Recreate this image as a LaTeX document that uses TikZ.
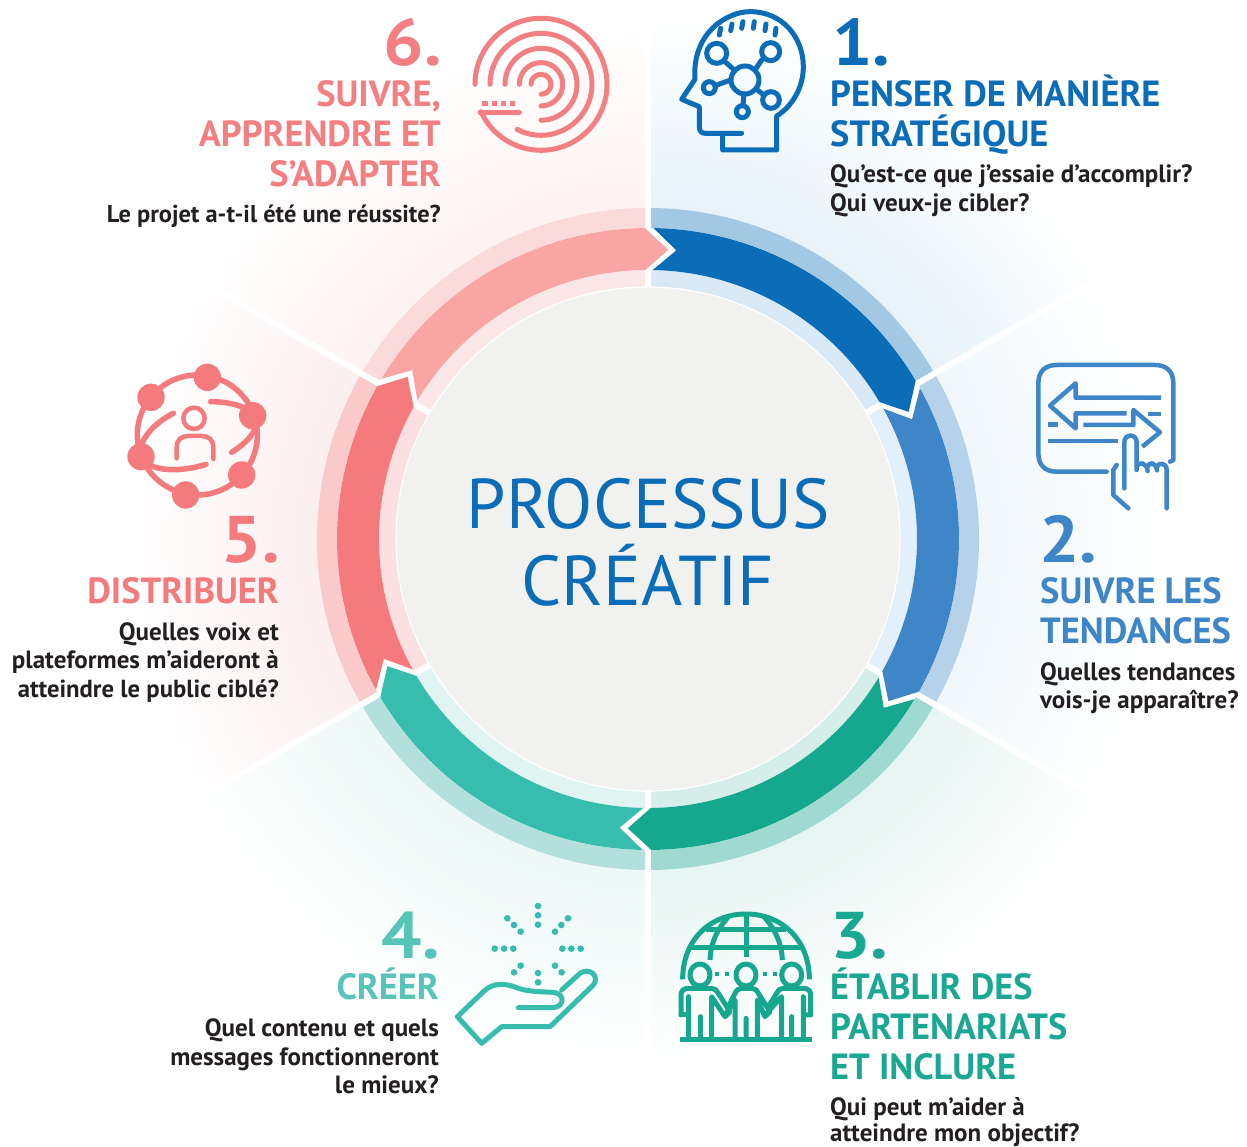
\documentclass[tikz,border=0pt]{standalone}
\usepackage{fontspec}
\setmainfont{PT Sans}
\definecolor{dA}{HTML}{0B6DB8}\definecolor{dB}{HTML}{3F86C8}\definecolor{dC}{HTML}{15A88F}
\definecolor{dD}{HTML}{36BDAE}\definecolor{dE}{HTML}{F47A7E}\definecolor{dF}{HTML}{F8A5A3}
\definecolor{oA}{HTML}{A2C8E3}\definecolor{oB}{HTML}{B5D2EA}\definecolor{oC}{HTML}{A0D9CF}
\definecolor{oD}{HTML}{B3E0DC}\definecolor{oE}{HTML}{FAC9CA}\definecolor{oF}{HTML}{FBDADA}
\definecolor{iA}{HTML}{D9E9F5}\definecolor{iB}{HTML}{E4F0F9}\definecolor{iC}{HTML}{D5EEE9}
\definecolor{iD}{HTML}{E0F4F1}\definecolor{iE}{HTML}{FCE0E1}\definecolor{iF}{HTML}{FCE7E7}
\definecolor{sA}{HTML}{E6F2F9}\definecolor{sB}{HTML}{F0F7FC}\definecolor{sC}{HTML}{E6F5F2}
\definecolor{sD}{HTML}{ECF8F6}\definecolor{sE}{HTML}{FCEEEE}\definecolor{sF}{HTML}{FEF2F1}
\definecolor{lblA}{HTML}{0B6DB8}\definecolor{lblB}{HTML}{3F86C8}\definecolor{lblC}{HTML}{1BA892}
\definecolor{lblD}{HTML}{56C4B6}\definecolor{lblE}{HTML}{F47A7E}\definecolor{lblF}{HTML}{F47F82}
\definecolor{txt}{HTML}{231F20}\definecolor{greyc}{HTML}{F1F1F0}
\pgfdeclareradialshading{fadeA}{\pgfpoint{0bp}{0bp}}{color(0bp)=(sA);color(15bp)=(sA);color(25bp)=(white);color(50bp)=(white)}
\pgfdeclareradialshading{fadeB}{\pgfpoint{0bp}{0bp}}{color(0bp)=(sB);color(15bp)=(sB);color(25bp)=(white);color(50bp)=(white)}
\pgfdeclareradialshading{fadeC}{\pgfpoint{0bp}{0bp}}{color(0bp)=(sC);color(15bp)=(sC);color(25bp)=(white);color(50bp)=(white)}
\pgfdeclareradialshading{fadeD}{\pgfpoint{0bp}{0bp}}{color(0bp)=(sD);color(15bp)=(sD);color(25bp)=(white);color(50bp)=(white)}
\pgfdeclareradialshading{fadeE}{\pgfpoint{0bp}{0bp}}{color(0bp)=(sE);color(15bp)=(sE);color(25bp)=(white);color(50bp)=(white)}
\pgfdeclareradialshading{fadeF}{\pgfpoint{0bp}{0bp}}{color(0bp)=(sF);color(15bp)=(sF);color(25bp)=(white);color(50bp)=(white)}
\newcommand{\sector}[3]{%
  \begin{scope}
    \clip (c) -- ($(c)+(#1:800pt)$) -- ($(c)+({(#1+#2)/2}:1000pt)$) -- ($(c)+(#2:800pt)$) -- cycle;
    \shade[shading=fade#3] (c) circle[radius=530pt];
  \end{scope}}
\newcommand{\bandpiece}[4]{% from to r colour
  \fill[#4] ($(c)+(#1:#3pt)$) arc[start angle=#1,end angle=#2,radius=#3pt] -- (c) -- cycle;}
\newcommand{\darkarrow}[3]{% a b colour: clockwise from a to b
  \fill[#3] ($(c)+({#1-1}:311pt)$) arc[start angle={#1-1},end angle={#2+0.6},radius=311pt]
    -- ($(c)+({#2-4}:290pt)$) -- ($(c)+({#2+0.6}:269pt)$)
    arc[start angle={#2+0.6},end angle={#1-1},radius=269pt]
    -- ($(c)+({#1-5.6}:290pt)$) -- cycle;}
\newcommand{\numwide}[1]{\scalebox{1.08}[1]{#1}}
\tikzset{
  x=1pt,y=1pt,
  imgframe/.style={shift={(0pt,1146pt)},x=1pt,y=-1pt},
  zoomframe/.style n args={2}{shift={(#1pt,1146pt-#2pt)},x=0.33333pt,y=-0.33333pt},
  numtxt/.style={font=\fontsize{66}{66}\selectfont\bfseries,inner sep=0pt},
  headtxt/.style={font=\fontsize{36.4}{36.4}\selectfont\bfseries,inner sep=0pt},
  bodytxt/.style={font=\fontsize{25}{25}\selectfont\bfseries,text=txt,inner sep=0pt},
  centertxt/.style={font=\fontsize{70.5}{70.5}\selectfont,text=dA,inner sep=0pt},
  icon/.style={line width=5pt,line cap=round,line join=round},
}
\usetikzlibrary{calc}
\begin{document}
\begin{tikzpicture}
\useasboundingbox (0,0) rectangle (1247,1146);
\coordinate (c) at (648pt,607pt);
% sectors
\sector{90}{30}{A}\sector{30}{-30}{B}\sector{-30}{-90}{C}\sector{-90}{-150}{D}\sector{-150}{-210}{E}\sector{150}{90}{F}
% light bands
\bandpiece{90}{30}{331}{oA}\bandpiece{30}{-30}{331}{oB}\bandpiece{-30}{-90}{331}{oC}
\bandpiece{-90}{-150}{331}{oD}\bandpiece{-150}{-210}{331}{oE}\bandpiece{150}{90}{331}{oF}
\fill[white] (c) circle[radius=311pt];
\bandpiece{90}{30}{269}{iA}\bandpiece{30}{-30}{269}{iB}\bandpiece{-30}{-90}{269}{iC}
\bandpiece{-90}{-150}{269}{iD}\bandpiece{-150}{-210}{269}{iE}\bandpiece{150}{90}{269}{iF}
% white separators
\foreach \a in {90,30,-30,-90,-150,150}{
  \draw[white,line width=6pt] ($(c)+(\a:311pt)$) -- ($(c)+(\a:640pt)$);
  \draw[white,line width=6pt] ($(c)+(\a:250pt)$) -- ($(c)+(\a:269pt)$);
}
% dark arrows
\darkarrow{90}{30}{dA}\darkarrow{30}{-30}{dB}\darkarrow{-30}{-90}{dC}
\darkarrow{-90}{-150}{dD}\darkarrow{-150}{-210}{dE}\darkarrow{150}{90}{dF}
\fill[greyc,draw=white,line width=1.2pt] (c) circle[radius=252pt];
\begin{scope}[imgframe]
\node[centertxt,anchor=base] (t0a) at (648,528.5) {PROCESSUS};
\node[centertxt,anchor=base] (t0b) at (648,605.5) {CRÉATIF};
% block 1
\node[numtxt,text=lblA,anchor=base west] (n1) at (832,66) {\numwide{1.}};
\node[headtxt,text=lblA,anchor=base west] (h1a) at (830,107) {PENSER DE MANIÈRE};
\node[headtxt,text=lblA,anchor=base west] (h1b) at (830,147) {STRATÉGIQUE};
\node[bodytxt,anchor=base west] (b1a) at (830,183) {Qu’est-ce que j’essaie d’accomplir?};
\node[bodytxt,anchor=base west] (b1b) at (830,212) {Qui veux-je cibler?};
% block 2
\node[numtxt,text=lblB,anchor=base west] (n2) at (1039,563) {\numwide{2.}};
\node[headtxt,text=lblB,anchor=base west] (h2a) at (1040,604) {SUIVRE LES};
\node[headtxt,text=lblB,anchor=base west] (h2b) at (1040,644) {TENDANCES};
\node[bodytxt,anchor=base west] (b2a) at (1040,681) {Quelles tendances};
\node[bodytxt,anchor=base west] (b2b) at (1040,709) {vois-je apparaître?};
% block 3
\node[numtxt,text=lblC,anchor=base west] (n3) at (830,958) {\numwide{3.}};
\node[headtxt,text=lblC,anchor=base west] (h3a) at (830,999) {ÉTABLIR DES};
\node[headtxt,text=lblC,anchor=base west] (h3b) at (830,1039) {PARTENARIATS};
\node[headtxt,text=lblC,anchor=base west] (h3c) at (830,1079) {ET INCLURE};
\node[bodytxt,anchor=base west] (b3a) at (830,1115.5) {Qui peut m’aider à};
\node[bodytxt,anchor=base west] (b3b) at (830,1141) {atteindre mon objectif?};
% block 4
\node[numtxt,text=lblD,anchor=base east] (n4) at (440,958) {\numwide{4.}};
\node[headtxt,text=lblD,anchor=base east] (h4a) at (439,999) {CRÉER};
\node[bodytxt,anchor=base east] (b4a) at (439,1036) {Quel contenu et quels};
\node[bodytxt,anchor=base east] (b4b) at (439,1065) {messages fonctionneront};
\node[bodytxt,anchor=base east] (b4c) at (439,1093) {le mieux?};
% block 5
\node[numtxt,text=lblE,anchor=base east] (n5) at (280,563) {\numwide{5.}};
\node[headtxt,text=lblE,anchor=base east] (h5a) at (279,604) {DISTRIBUER};
\node[bodytxt,anchor=base east] (b5a) at (279,641) {Quelles voix et};
\node[bodytxt,anchor=base east] (b5b) at (279,669) {plateformes m’aideront à};
\node[bodytxt,anchor=base east,font=\fontsize{24.7}{24.7}\selectfont\bfseries] (b5c) at (279,698) {atteindre le public ciblé?};
% block 6
\node[numtxt,text=lblF,anchor=base east] (n6) at (442,66) {\numwide{6.}};
\node[headtxt,text=lblF,anchor=base east] (h6a) at (441,107) {SUIVRE,};
\node[headtxt,text=lblF,anchor=base east] (h6b) at (441,147) {APPRENDRE ET};
\node[headtxt,text=lblF,anchor=base east] (h6c) at (441,187) {S’ADAPTER};
\node[bodytxt,anchor=base east,font=\fontsize{24.4}{24.4}\selectfont\bfseries] (b6a) at (441,223) {Le projet a-t-il été une réussite?};
\end{scope}
% icon 1: head
\begin{scope}[zoomframe={640}{0}]
\draw[icon,draw=dA] (305,400) -- (195,400) .. controls (183,400) and (178,392) .. (178,380) -- (178,320) -- (125,298) -- (165,238) .. controls (155,100) and (260,35) .. (330,35) .. controls (430,35) and (490,115) .. (490,200) .. controls (490,265) and (455,320) .. (410,348) -- (410,450) -- (248,450) -- (248,400);
\foreach \p/\q in {238/105,272/92,305/85}{\draw[icon,draw=dA] (\p,\q) -- (\p+4,\q-20);}
\foreach \p/\q in {340/85,375/92,405/105}{\draw[icon,draw=dA] (\p,\q) -- (\p+3,\q-20);}
\foreach \p/\q/\r in {230/160/30,392/155/27,315/240/42,208/263/18,393/300/25,307/335/18}{\draw[icon,draw=dA] (\p,\q) circle[radius=\r];}
\draw[icon,draw=dA] (255,185) -- (285,212) (365,180) -- (345,210) (225,257) -- (272,240) (352,270) -- (372,285) (312,282) -- (309,315);
\end{scope}
% icon 6: spiral
\begin{scope}[shift={(541pt,1061.7pt)}]
\draw[icon,draw=lblF] (180:66pt) arc[start angle=180,end angle=-155.4,radius=66pt];
\draw[icon,draw=lblF] (180:51pt) arc[start angle=180,end angle=-118,radius=51pt];
\draw[icon,draw=lblF] (180:36pt) arc[start angle=180,end angle=-90,radius=36pt];
\draw[icon,draw=lblF] (180:21.7pt) arc[start angle=180,end angle=-90,radius=21.7pt];
\draw[icon,draw=lblF] (180:10pt) arc[start angle=180,end angle=-90,radius=10pt];
\end{scope}
\begin{scope}[zoomframe={460}{5}]
\draw[icon,draw=lblF] (60,322) -- (178,322);
\foreach \p in {75,103,130,157}{\fill[lblF] (\p-8,288) rectangle (\p+8,304);}
\end{scope}
% icon 2
\begin{scope}[zoomframe={1025}{355}]
\tikzset{icon/.append style={line width=4.5pt}}
\draw[icon,draw=dB] (245,350) -- (95,350) .. controls (60,350) and (40,330) .. (40,295) -- (40,85) .. controls (40,50) and (60,30) .. (95,30) -- (390,30) .. controls (425,30) and (445,50) .. (445,85) -- (445,315) -- (435,320);
\draw[icon,draw=dB,line cap=butt] (408,128) -- (152,128) -- (152,85) -- (75,152) -- (152,220) -- (152,175) -- (305,175);
\draw[icon,draw=dB,line cap=butt] (175,210) -- (325,210) -- (325,165) -- (405,232) -- (352,275);
\draw[icon,draw=dB,line cap=butt] (368,177) -- (408,177) (68,208) -- (100,208) (70,258) -- (280,258);
\draw[icon,draw=dB] (298,400) -- (298,262) .. controls (298,235) and (335,235) .. (335,262) -- (335,345) (335,335) .. controls (340,320) and (365,320) .. (368,348) (368,335) .. controls (372,320) and (392,320) .. (396,346) (396,335) .. controls (400,322) and (425,322) .. (425,345) -- (425,460) (275,330) -- (265,345) -- (265,420) -- (310,460);
\end{scope}
% icon 5
\begin{scope}[zoomframe={120}{355}]
\tikzset{icon/.append style={line width=5.5pt}}
\draw[icon,draw=dE] (232,240) circle[radius=180];
\foreach \p/\q in {262/67,93/127,398/182,63/305,365/360,197/420}{\fill[dE] (\p,\q) circle[radius=41];}
\draw[icon,draw=dE] (160,175) .. controls (90,210) and (50,270) .. (63,305) .. controls (90,355) and (190,350) .. (258,328);
\draw[icon,draw=dE] (272,140) .. controls (340,140) and (395,160) .. (410,190) .. controls (415,225) and (385,260) .. (335,292);
\draw[icon,draw=dE,line width=4.5pt] (222,190) circle[radius=32];
\draw[icon,draw=dE,line width=4.5pt] (170,310) -- (170,275) .. controls (170,255) and (185,243) .. (205,243) -- (245,243) .. controls (265,243) and (280,255) .. (280,275) -- (280,312);
\end{scope}
% icon 3
\begin{scope}[zoomframe={670}{900}]
\draw[icon,draw=dC,line cap=butt] (38,238) .. controls (38,120) and (120,42) .. (228,42) .. controls (336,42) and (418,120) .. (418,238);
\draw[icon,draw=dC,line cap=butt] (62,143) -- (395,143) (108,90) -- (348,90) (228,42) -- (228,172);
\draw[icon,draw=dC,line cap=butt] (175,50) .. controls (140,90) and (122,130) .. (120,180) (282,50) .. controls (317,90) and (335,130) .. (337,180);
\draw[icon,draw=dC,line cap=butt] (30,420) -- (425,420);
\foreach \x in {90,228,365}{\draw[icon,draw=dC] (\x,225) ellipse[x radius=30,y radius=33];}
\foreach \p in {140,170,285,315}{\fill[dC] (\p-6,216) rectangle (\p+6,228);}
% left person
\draw[icon,draw=dC] (33,345) -- (33,285) .. controls (33,272) and (42,265) .. (55,265) -- (125,265) .. controls (135,265) and (140,272) .. (145,280) -- (180,335) -- (165,350) -- (125,290) -- (125,415);
\draw[icon,draw=dC] (33,345) -- (55,345) (55,290) -- (55,415) (90,350) -- (90,415);
% middle person
\draw[icon,draw=dC] (165,345) -- (195,300) -- (195,415) (228,355) -- (228,415) (175,320) -- (195,280) .. controls (200,270) and (205,265) .. (215,265) -- (245,265) .. controls (255,265) and (260,270) .. (265,280) -- (300,335) -- (285,350) -- (262,300) -- (262,415);
% right person
\draw[icon,draw=dC] (285,345) -- (335,290) -- (335,415) (365,350) -- (365,415) (295,320) -- (320,280) .. controls (325,270) and (330,265) .. (340,265) -- (400,265) .. controls (413,265) and (422,272) .. (422,285) -- (422,345) -- (400,345) (400,290) -- (400,415);
\end{scope}
% icon 4
\begin{scope}[zoomframe={450}{895}]
\foreach \p/\q in {264/33,264/61,264/89,172/70,192/90,212/110,354/70,334/90,315/110,134/161,162/161,190/161,337/161,364/161,392/161,212/212,192/232,315/212,335/232,264/234,264/262}{\fill[dD] (\p,\q) circle[radius=10];}
\draw[icon,draw=dD] (205,338) -- (310,338) .. controls (345,335) and (345,295) .. (310,292) .. controls (270,290) and (235,290) .. (205,280) .. controls (170,265) and (130,260) .. (100,290) -- (22,365) -- (95,445) -- (155,395) -- (300,395) -- (430,270) .. controls (450,245) and (420,215) .. (390,235) -- (335,285);
\end{scope}
\end{tikzpicture}
\end{document}
